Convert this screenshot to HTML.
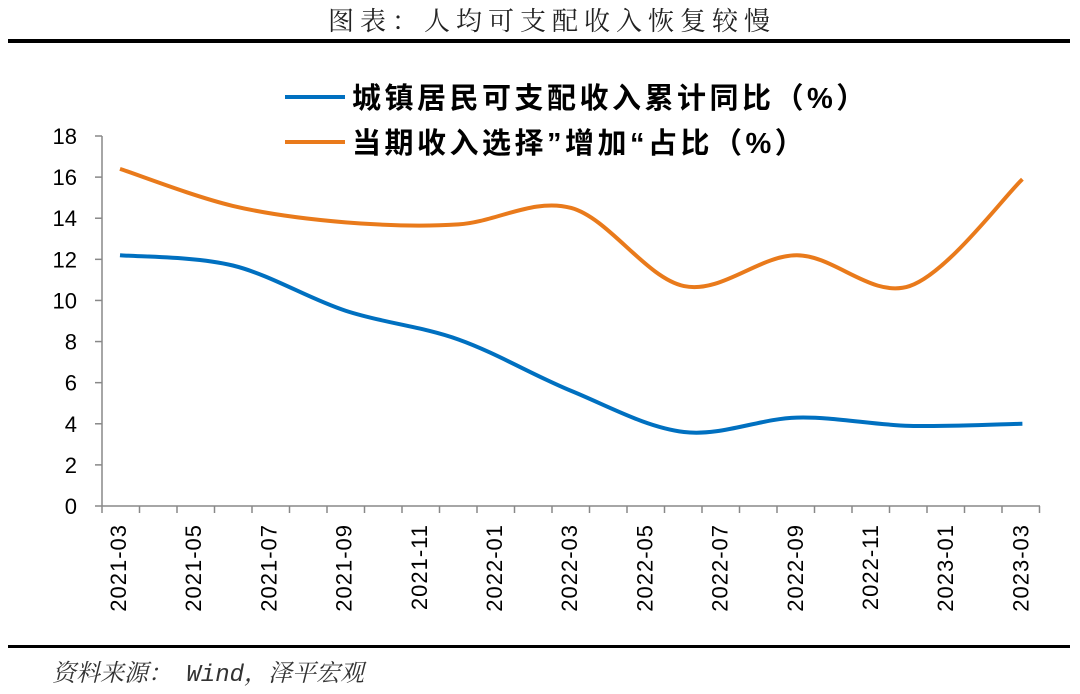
<!DOCTYPE html>
<html><head><meta charset="utf-8"><style>
body{margin:0;background:#fff;width:1080px;height:689px;overflow:hidden;font-family:"Liberation Sans","Noto Sans CJK SC",sans-serif}
</style></head><body>
<svg width="1080" height="689" xmlns="http://www.w3.org/2000/svg">
<text x="552" y="30" text-anchor="middle" font-family="'Noto Serif CJK SC',serif" font-size="26" fill="#222" letter-spacing="6">图表：人均可支配收入恢复较慢</text>
<rect x="8" y="39" width="1062" height="4" fill="#000"/>
<rect x="8" y="645" width="1062" height="3" fill="#000"/>
<text x="52" y="681" font-family="'Liberation Mono','Noto Serif CJK SC',serif" font-style="italic" font-size="24" fill="#333">资料来源： Wind，泽平宏观</text>
<g id="axes"></g>
<g id="series"></g>
<g>
<line x1="285" y1="97" x2="345" y2="97" stroke="#0070C0" stroke-width="4"/>
<text x="352" y="108" font-size="29" font-weight="bold" fill="#000" letter-spacing="3.5">城镇居民可支配收入累计同比（%）</text>
<line x1="285" y1="142" x2="345" y2="142" stroke="#E97A1B" stroke-width="4"/>
<text x="352" y="153" font-size="29" font-weight="bold" fill="#000" letter-spacing="3.5">当期收入选择”增加“占比（%）</text>
</g>
</svg>
<script>
const xLabels=["2021-03","2021-05","2021-07","2021-09","2021-11","2022-01","2022-03","2022-05","2022-07","2022-09","2022-11","2023-01","2023-03"];
const yTicks=[0,2,4,6,8,10,12,14,16,18];
const periods=["2021-03","2021-06","2021-09","2021-12","2022-03","2022-06","2022-09","2022-12","2023-03"];
const urbanIncome=[12.2,11.7,9.5,8.1,5.6,3.6,4.3,3.9,4.0];
const increaseShare=[16.4,14.6,13.8,13.7,14.5,10.7,12.2,10.7,15.9];
const NS="http://www.w3.org/2000/svg";
function y(v){return 506-v*370/18;}
function x(i){return 120+i*112.8;}
function mk(t,a,p){const e=document.createElementNS(NS,t);for(const k in a)e.setAttribute(k,a[k]);p.appendChild(e);return e;}
const ax=document.getElementById('axes');
const yl=mk('line',{x1:102,y1:136,x2:102,y2:506,stroke:'#888','stroke-width':1.5},ax);


const xl=mk('line',{x1:102,y1:506,x2:1040,y2:506,stroke:'#888','stroke-width':1.5},ax);


yTicks.forEach(v=>{
 mk('line',{x1:95,y1:y(v),x2:102,y2:y(v),stroke:'#888','stroke-width':1.5},ax);
 const t=mk('text',{x:77,y:y(v)+8,'text-anchor':'end','font-size':22,fill:'#000'},ax);t.textContent=v;
 
 
});
for(let k=0;k<=25;k++){const xx=102+k*37.5;mk('line',{x1:xx,y1:506,x2:xx,y2:513,stroke:'#888','stroke-width':1.5},ax);}
xLabels.forEach((l,i)=>{
 const cx=118+i*75.2;
 const t=mk('text',{transform:`translate(${cx+8},524) rotate(-90)`,'text-anchor':'end','font-size':22,'letter-spacing':1,fill:'#000'},ax);t.textContent=l;
 
 
});
function path(vals){
 const p=vals.map((v,i)=>[x(i),y(v)]);
 let d=`M${p[0][0]},${p[0][1]}`;
 for(let i=0;i<p.length-1;i++){
  const p0=p[i-1]||p[i],p1=p[i],p2=p[i+1],p3=p[i+2]||p2;
  const c1=[p1[0]+(p2[0]-p0[0])/6,p1[1]+(p2[1]-p0[1])/6];
  const c2=[p2[0]-(p3[0]-p1[0])/6,p2[1]-(p3[1]-p1[1])/6];
  d+=` C${c1[0]},${c1[1]} ${c2[0]},${c2[1]} ${p2[0]},${p2[1]}`;
 }
 return d;
}
const sg=document.getElementById('series');
const a=mk('path',{d:path(urbanIncome),fill:'none',stroke:'#0070C0','stroke-width':4},sg);


const b=mk('path',{d:path(increaseShare),fill:'none',stroke:'#E97A1B','stroke-width':4},sg);


</script>
</body></html>
